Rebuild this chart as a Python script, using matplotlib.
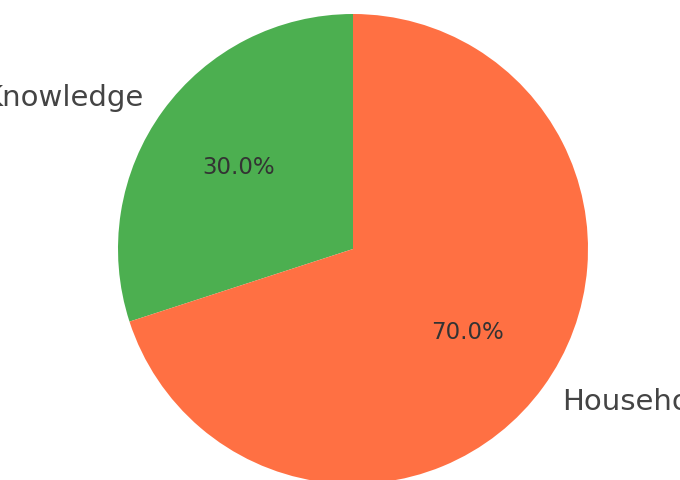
import matplotlib
matplotlib.use("Agg")
from matplotlib import pyplot as plt

labels = ["Knowledge", "Household"]
shares = [30, 70]
colors = ["#4CAF50", "#FF7043"]

fig = plt.figure(figsize=(6.8, 4.81), dpi=100)
ax = fig.add_axes([0, 0, 1, 1])

wedges, texts, autotexts = ax.pie(
    shares, labels=labels, colors=colors, startangle=90,
    autopct="%1.1f%%", labeldistance=1.1, pctdistance=0.6,
    textprops={"fontsize": 21, "color": "#444444"},
)
for t in autotexts:
    t.set_fontsize(16.5)
    t.set_color("#333333")

# pie centre at (353, 250) px, radius 235 px
r = 235.0
ax.set_xlim(-353 / r, (680 - 353) / r)
ax.set_ylim(-(481 - 250) / r, 250 / r)
ax.set_aspect("auto")
ax.axis("off")

fig.savefig("out.png", dpi=100)
